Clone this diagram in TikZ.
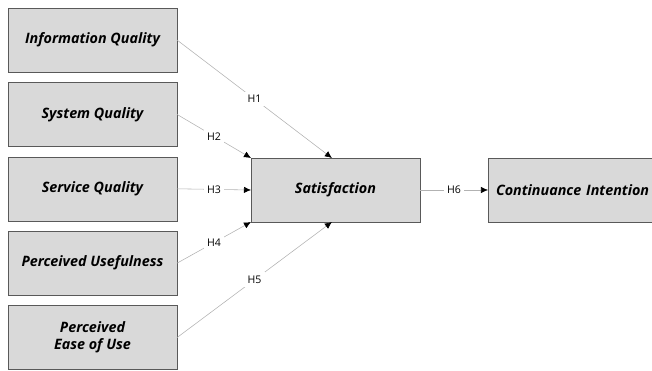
\documentclass[tikz,border=0pt]{standalone}
\usepackage{fontspec}
\setmainfont{Open Sans}
\usetikzlibrary{positioning,calc,arrows.meta}

\begin{document}
\begin{tikzpicture}[every node/.style={block},
        block/.style={minimum width=4.225cm,minimum height=1.6cm,outer sep=0pt,draw=black!65,fill=black!15,
          font=\bfseries\itshape\fontsize{10.2}{12}\selectfont,align=center,node distance=0.26cm},
        hyp/.style={draw=none,fill=white,minimum width=0pt,minimum height=0pt,inner sep=2.5pt,
          font=\fontsize{7.5}{8}\selectfont},
        link/.style={draw=black!30,-{Latex[length=5pt,width=4.5pt,color=black]}}]
   \useasboundingbox (0,0) rectangle (16.3,-9.275);
   \node (A) at (2.3125,-1.0) {Information Quality};
   \node (B) [below=of A] {System Quality};
   \node (C) [below=of B] {Service Quality};
   \node (D) [below=of C] {Perceived Usefulness};
   \node (E) [below=of D] {Perceived\\Ease of Use};
   \node (F) at (8.3875,-4.75) {Satisfaction};
   \node (G) [right = 1.7 cm of F, minimum width=4.5cm, text width=4.1cm, align=left] {Continuance Intention};
   
   \draw[link] (A.east) -- node[hyp] {H1} ($(F.north)+(-0.09,0)$);
   \draw[link] (B.east) -- node[hyp] {H2} (F.north west);
   \draw[link] (C.east) -- node[hyp] {H3} (F.west);
   \draw[link] (D.east) -- node[hyp] {H4} (F.south west);
   \draw[link] (E.east) -- node[hyp] {H5} ($(F.south)+(-0.09,0)$);
   \draw[link] (F.east) -- node[hyp] {H6} (G.west);
\end{tikzpicture}
\end{document}
